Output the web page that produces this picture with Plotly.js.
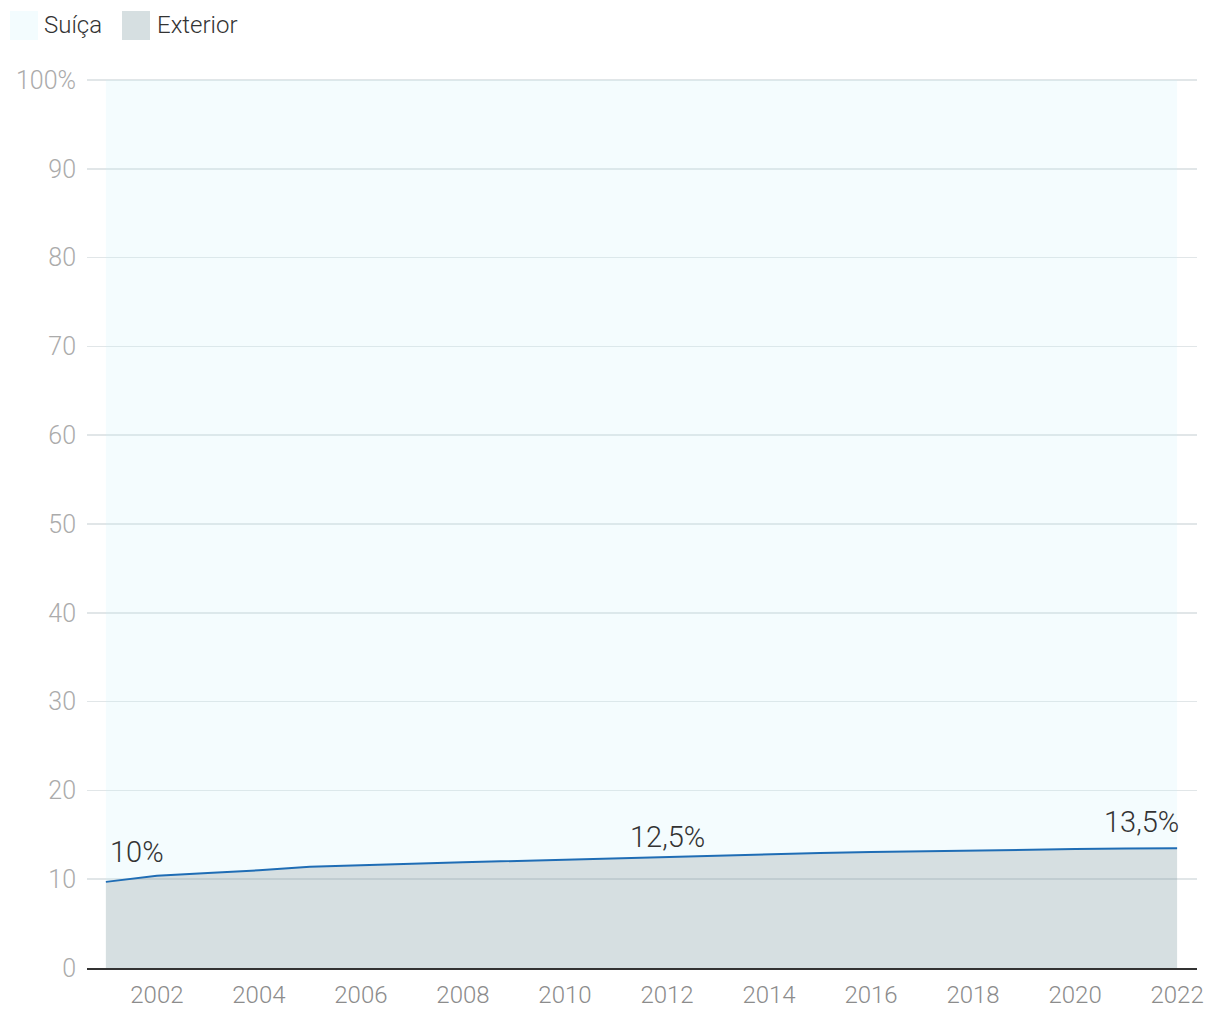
<!DOCTYPE html>
<html>
<head>
<meta charset="utf-8">
<script src="https://cdn.plot.ly/plotly-3.0.1.min.js"></script>
<style>
  html, body { margin: 0; padding: 0; background: #ffffff; }
  #chart { width: 1220px; height: 1020px; }
</style>
</head>
<body>
<div id="chart"></div>
<script>
// ---- data ----
var years = [2001, 2002, 2003, 2004, 2005, 2006, 2007, 2008, 2009, 2010, 2011,
             2012, 2013, 2014, 2015, 2016, 2017, 2018, 2019, 2020, 2021, 2022];
var exterior = [9.7, 10.4, 10.7, 11.0, 11.4, 11.6, 11.75, 11.9, 12.05, 12.2, 12.35,
                12.55, 12.7, 12.85, 12.95, 13.05, 13.15, 13.25, 13.35, 13.4, 13.45, 13.5];
var suica = [90.3, 89.6, 89.3, 89.0, 88.6, 88.4, 88.25, 88.1, 87.95, 87.8, 87.65,
             87.45, 87.3, 87.15, 87.05, 86.95, 86.85, 86.75, 86.65, 86.6, 86.55, 86.5];
var seriesNames = ["Suíça", "Exterior"];
var yTickVals = [0, 10, 20, 30, 40, 50, 60, 70, 80, 90, 100];
var yTickText = ["0", "10", "20", "30", "40", "50", "60", "70", "80", "90", "100%"];
var xTickVals = [2002, 2004, 2006, 2008, 2010, 2012, 2014, 2016, 2018, 2020, 2022];
var labelYears = [2001, 2012, 2022];
var labelTexts = ["10%", "12,5%", "13,5%"];

var FONT = "Roboto, 'Liberation Sans', sans-serif";
var exteriorFill = "rgba(120,150,155,0.30)";
var suicaFill = "rgba(200,240,250,0.20)";
var exteriorSolid = "#d6dfe1";
var suicaSolid = "#f3fcfe";

var traces = [
  {
    x: years, y: exterior, name: seriesNames[1], type: "scatter", mode: "lines",
    stackgroup: "one", fillcolor: exteriorFill, line: {width: 0},
    hoverinfo: "skip", showlegend: false
  },
  {
    x: years, y: suica, name: seriesNames[0], type: "scatter", mode: "lines",
    stackgroup: "one", fillcolor: suicaFill, line: {width: 0},
    hoverinfo: "skip", showlegend: false
  },
  {
    x: years, y: exterior, name: "line", type: "scatter", mode: "lines",
    line: {color: "#1f6db5", width: 2}, hoverinfo: "skip", showlegend: false
  }
];

var labelShift = [{xa: "left", xs: 2, ys: 30}, {xa: "center", xs: 0, ys: 20}, {xa: "right", xs: 4, ys: 26}];
var annotations = labelYears.map(function (yr, i) {
  var idx = years.indexOf(yr);
  return {
    x: yr, y: exterior[idx], xref: "x", yref: "y", text: labelTexts[i],
    showarrow: false, xanchor: labelShift[i].xa, yanchor: "middle",
    xshift: labelShift[i].xs, yshift: labelShift[i].ys,
    font: {family: FONT, size: 29, color: "#333333", weight: 300}
  };
});

// custom legend (pixel-positioned relative to plot corner)
var legendItems = [
  {name: seriesNames[0], color: suicaSolid, x0: -77, textX: -45},
  {name: seriesNames[1], color: exteriorSolid, x0: 35, textX: 68}
];
var shapes = [];
legendItems.forEach(function (it) {
  shapes.push({
    type: "rect", xref: "paper", yref: "paper",
    xsizemode: "pixel", ysizemode: "pixel", xanchor: 0, yanchor: 1,
    x0: it.x0, x1: it.x0 + 28, y0: 39, y1: 68,
    fillcolor: it.color, line: {width: 0}, layer: "above"
  });
  annotations.push({
    xref: "paper", yref: "paper", x: 0, y: 1, xshift: it.textX, yshift: 54,
    xanchor: "left", yanchor: "middle", showarrow: false, text: it.name,
    font: {family: FONT, size: 24, color: "#333333", weight: 300}
  });
});

var layout = {
  width: 1220, height: 1020,
  margin: {l: 87, r: 23, t: 79, b: 52, pad: 0},
  paper_bgcolor: "#ffffff", plot_bgcolor: "#ffffff",
  showlegend: false,
  font: {family: FONT, size: 22, color: "#333333"},
  xaxis: {
    range: [2000.63, 2022.39], tickvals: xTickVals, ticks: "",
    showgrid: false, zeroline: false, showline: true,
    linecolor: "#333333", linewidth: 2,
    tickfont: {family: FONT, size: 24, color: "#8c8c8c", weight: 300},
    ticklabelstandoff: 4
  },
  yaxis: {
    range: [0, 100.12], tickvals: yTickVals, ticktext: yTickText, ticks: "",
    showgrid: true, gridcolor: "#e1e6e8", gridwidth: 1.5,
    zeroline: false, showline: false,
    tickfont: {family: FONT, size: 25, color: "#ababab", weight: 300},
    ticklabelstandoff: 10
  },
  annotations: annotations,
  shapes: shapes
};

Plotly.newPlot("chart", traces, layout, {staticPlot: true, displayModeBar: false});
</script>
</body>
</html>
